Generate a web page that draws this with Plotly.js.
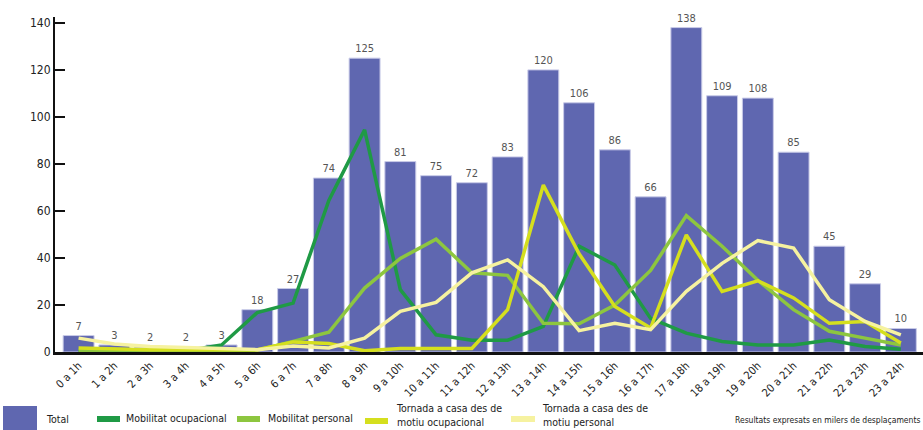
<!DOCTYPE html>
<html>
<head>
<meta charset="utf-8">
<script src="https://cdn.plot.ly/plotly-3.0.1.min.js"></script>
<style>html,body{margin:0;padding:0;background:#fff;}#chart{width:923px;height:430px;}</style>
</head>
<body>
<div id="chart"></div>
<script>
const hours = ["0 a 1h","1 a 2h","2 a 3h","3 a 4h","4 a 5h","5 a 6h","6 a 7h","7 a 8h","8 a 9h","9 a 10h","10 a 11h","11 a 12h","12 a 13h","13 a 14h","14 a 15h","15 a 16h","16 a 17h","17 a 18h","18 a 19h","19 a 20h","20 a 21h","21 a 22h","22 a 23h","23 a 24h"];
const total = [7,3,2,2,3,18,27,74,125,81,75,72,83,120,106,86,66,138,109,108,85,45,29,10];
const mobOcupacional = [0.5,0.3,0.3,0.5,3,16.8,20.8,64.5,94.5,26.5,7.3,5,5,10.9,45,37,14.3,8,4.5,3,3,5.1,2.3,1.2];
const mobPersonal = [0.5,0.5,0.5,0.5,0.5,0.8,4.5,8.4,27.2,39.8,48,33.7,32.6,12.2,12,20,34.7,58,45,30.5,18,8.8,5.9,3];
const tornadaOcupacional = [1.7,1.2,1,1,1,1,4.3,3.6,0.5,1.5,1.5,1.5,18,71,41.8,19.4,10.2,49.8,25.8,30.3,23,12.2,13,3.8];
const tornadaPersonal = [5.9,3.4,2.3,2,1.5,1,2.6,1.7,5.9,17.3,21.1,33.7,39.2,27.8,9.1,12.2,9.5,25.8,37.7,47.4,44.2,22.2,13,7.3];
const seriesNames = ["Total","Mobilitat ocupacional","Mobilitat personal","Tornada a casa des de<br>motiu ocupacional","Tornada a casa des de<br>motiu personal"];
const yTicks = [0,20,40,60,80,100,120,140];
const colors = ["#5f67b0","#1f9a45","#8dc63f","#d5df1e","#f6f2a0"];
const note = "Resultats expresats en milers de desplaçaments";

const FONT = "'Liberation Sans Narrow','DejaVu Sans Condensed','Arial Narrow',sans-serif";

const lineSeries = [mobOcupacional, mobPersonal, tornadaOcupacional, tornadaPersonal];

const traces = [{
  type: "bar", x: hours, y: total, name: seriesNames[0],
  marker: {color: colors[0], line: {color: "#c9cbe8", width: 1}},
  text: total.map(String), textposition: "outside", cliponaxis: false,
  textfont: {family: FONT, size: 11, color: "#555"},
  hoverinfo: "x+y"
}];
lineSeries.forEach((s, i) => {
  traces.push({type: "scatter", mode: "lines", x: hours, y: s, name: seriesNames[i+1],
    line: {color: colors[i+1], width: 3.5}, cliponaxis: false});
});

// custom legend (paper coords are relative to the plot area)
const W = 923, H = 430, ML = 55, MR = 0, MT = 17, MB = 78;
const PW = W - ML - MR, PH = H - MT - MB;
const px = v => (v - ML) / PW, py = v => (H - MB - v) / PH;
const shapes = [];
const annotations = [];
const LFS = 10.5;
shapes.push({type: "rect", xref: "paper", yref: "paper", x0: px(3), x1: px(37), y0: py(430), y1: py(406), fillcolor: colors[0], line: {width: 0}});
annotations.push({xref: "paper", yref: "paper", x: px(44), y: py(419), xanchor: "left", yanchor: "middle", text: seriesNames[0], showarrow: false, font: {family: FONT, size: LFS, color: "#222"}});
const legItems = [
  {sx0: 97, sx1: 120, sy: 419, tx: 124, ty: 418},
  {sx0: 237, sx1: 260, sy: 419, tx: 266, ty: 418},
  {sx0: 365, sx1: 388, sy: 421, tx: 394, ty: 415},
  {sx0: 511, sx1: 535, sy: 419, tx: 540, ty: 415}
];
legItems.forEach((it, i) => {
  shapes.push({type: "rect", xref: "paper", yref: "paper", x0: px(it.sx0), x1: px(it.sx1), y0: py(it.sy + 3), y1: py(it.sy - 3), fillcolor: colors[i+1], line: {width: 0}});
  annotations.push({xref: "paper", yref: "paper", x: px(it.tx), y: py(it.ty), xanchor: "left", yanchor: "middle", align: "left", text: seriesNames[i+1], showarrow: false, font: {family: FONT, size: LFS, color: "#222"}});
});
annotations.push({xref: "paper", yref: "paper", x: px(922), y: py(420), xanchor: "right", yanchor: "middle", text: note, showarrow: false, font: {family: FONT, size: 8.5, color: "#222"}});

const layout = {
  width: W, height: H,
  margin: {l: ML, r: MR, t: MT, b: MB},
  paper_bgcolor: "#fff", plot_bgcolor: "#fff",
  showlegend: false,
  bargap: 0.135,
  font: {family: FONT, color: "#222"},
  xaxis: {
    type: "category", range: [-0.66, 23.62],
    showline: true, linecolor: "#111", linewidth: 3,
    ticks: "", tickangle: -45, showgrid: false, zeroline: false,
    tickfont: {family: FONT, size: 11, color: "#222"}
  },
  yaxis: {
    range: [0, 142.5], tickvals: yTicks,
    showline: true, linecolor: "#111", linewidth: 2,
    ticks: "inside", ticklen: 10, tickwidth: 2, tickcolor: "#111",
    showgrid: false, zeroline: false,
    tickfont: {family: FONT, size: 12, color: "#222"}
  },
  shapes: shapes,
  annotations: annotations
};

Plotly.newPlot("chart", traces, layout, {displayModeBar: false, staticPlot: true});
</script>
</body>
</html>
